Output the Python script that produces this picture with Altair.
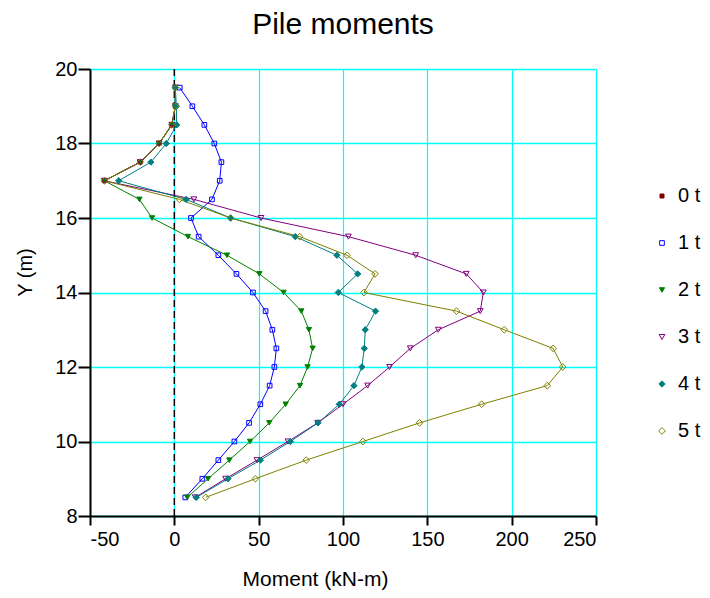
import altair as alt
import pandas as pd

# Depths (m), shared by every series
depths = [19.5, 19.0, 18.5, 18.0, 17.5, 17.0, 16.5, 16.0, 15.5, 15.0, 14.5, 14.0,
          13.5, 13.0, 12.5, 12.0, 11.5, 11.0, 10.5, 10.0, 9.5, 9.0, 8.5]

series_names = ["0 t", "1 t", "2 t", "3 t", "4 t", "5 t"]

# Moments (kN-m)
m0 = [0.6, 0.6, -1.5, -9.0, -20.2, -41.5]
m1 = [3.2, 10.7, 17.8, 23.7, 27.9, 26.9, 22.3, 9.9, 14.4, 26.1, 36.8, 46.6,
      54.1, 58.1, 60.5, 59.3, 56.5, 51.0, 44.3, 35.6, 26.1, 16.6, 6.5]
m2 = [0.6, 0.6, -1.5, -9.0, -20.2, -41.5, -20.7, -13.2, 8.1, 31.2, 50.4, 64.8,
      75.3, 79.8, 82.0, 79.0, 74.5, 66.0, 56.3, 44.9, 32.6, 20.0, 7.7]
m3 = [0.6, 0.6, -1.5, -9.0, -20.2, -41.5, 11.6, 51.4, 103.2, 143.1, 173.1, 183.2,
      181.4, 156.5, 139.9, 127.6, 114.6, 100.0, 85.0, 67.4, 49.0, 30.4, 12.4]
m4 = [0.6, 1.2, 1.4, -4.8, -13.9, -33.0, 7.0, 33.4, 71.7, 96.4, 108.7, 97.2,
      119.3, 113.2, 112.6, 111.2, 106.5, 97.8, 85.2, 68.8, 51.0, 31.8, 13.0]
m5 = [0.6, 0.6, -1.5, -9.0, -20.2, -41.5, 3.0, 33.4, 74.3, 102.4, 119.0, 112.4,
      167.3, 195.6, 224.6, 230.3, 221.1, 182.2, 145.4, 111.8, 78.2, 48.0, 18.6]

x_ticks = [-50, 0, 50, 100, 150, 200, 250]
y_ticks = [8, 10, 12, 14, 16, 18, 20]

colors = ["#800000", "#0000FF", "#008000", "#800080", "#008080", "#808000"]
fills = ["#800000", "transparent", "#008000", "transparent", "#008080", "transparent"]
shapes = ["square", "square", "triangle-down", "triangle-down", "diamond", "diamond"]
sizes = [16, 45, 40, 40, 30, 30]

rows = []
for name, vals in zip(series_names, [m0, m1, m2, m3, m4, m5]):
    for i, (d, v) in enumerate(zip(depths, vals)):
        rows.append({"series": name, "depth": d, "moment": v, "idx": i})
df = pd.DataFrame(rows)

FONT = "Liberation Sans"

x_enc = alt.X(
    "moment:Q",
    scale=alt.Scale(domain=[-50, 250], nice=False, zero=False),
    axis=alt.Axis(
        values=x_ticks, title="Moment (kN-m)", grid=True, gridColor="#00FFFF",
        gridWidth=1.2, domainColor="black", domainWidth=2, tickColor="black",
        tickWidth=2, tickSize=9, labelPadding=4, labelFontSize=20,
        labelExpr="'' + datum.value",
        titleFontSize=21, titleFontWeight="normal", titleX=225, titleY=69,
        titleBaseline="alphabetic", labelFont=FONT, titleFont=FONT,
        labelColor="black", titleColor="black",
    ),
)
y_enc = alt.Y(
    "depth:Q",
    scale=alt.Scale(domain=[8, 20], nice=False, zero=False),
    axis=alt.Axis(
        values=y_ticks, title="Y (m)", grid=True, gridColor="#00FFFF",
        gridWidth=1.5, domainColor="black", domainWidth=2, tickColor="black",
        tickWidth=2, tickSize=12, labelPadding=1, labelFontSize=20,
        titleFontSize=20, titleFontWeight="normal", titleX=-65, titleY=203,
        titleBaseline="middle", titleAlign="center", labelFont=FONT,
        titleFont=FONT, labelColor="black", titleColor="black",
    ),
)

zero_df = pd.DataFrame({"zero": [0]})
zero_rule = alt.Chart(zero_df).mark_rule(
    color="black", strokeDash=[7, 4], strokeWidth=1.5
).encode(x=alt.X("zero:Q", scale=alt.Scale(domain=[-50, 250], nice=False)))

lines = alt.Chart(df).mark_line(strokeWidth=1).encode(
    x=x_enc,
    y=y_enc,
    detail="series:N",
    stroke=alt.Stroke("series:N", scale=alt.Scale(domain=series_names, range=colors)),
    order="idx:Q",
)

leg = alt.Legend(
    title=None, orient="none", legendX=562, legendY=117, symbolSize=36,
    symbolStrokeWidth=1, labelFontSize=20, labelFont=FONT, labelColor="black",
    rowPadding=27, labelOffset=6, padding=0,
)

points = alt.Chart(df).mark_point(strokeWidth=1, opacity=1, fillOpacity=1).encode(
    x=x_enc,
    y=y_enc,
    shape=alt.Shape("series:N", scale=alt.Scale(domain=series_names, range=shapes), legend=leg),
    stroke=alt.Stroke("series:N", scale=alt.Scale(domain=series_names, range=colors), legend=leg),
    fill=alt.Fill("series:N", scale=alt.Scale(domain=series_names, range=fills), legend=leg),
    size=alt.Size("series:N", scale=alt.Scale(domain=series_names, range=sizes), legend=None),
)

chart = alt.layer(zero_rule, lines, points).properties(
    width=506,
    height=447,
    padding={"left": 82, "top": 61, "right": 106, "bottom": 74},
    autosize=alt.AutoSizeParams(type="none"),
    title=alt.TitleParams(
        "Pile moments", fontSize=30, font=FONT, fontWeight="normal",
        color="black", anchor="middle", offset=19,
    ),
).configure_view(stroke=None)

chart.save("out.html", embed_options={"renderer": "svg", "actions": False})
